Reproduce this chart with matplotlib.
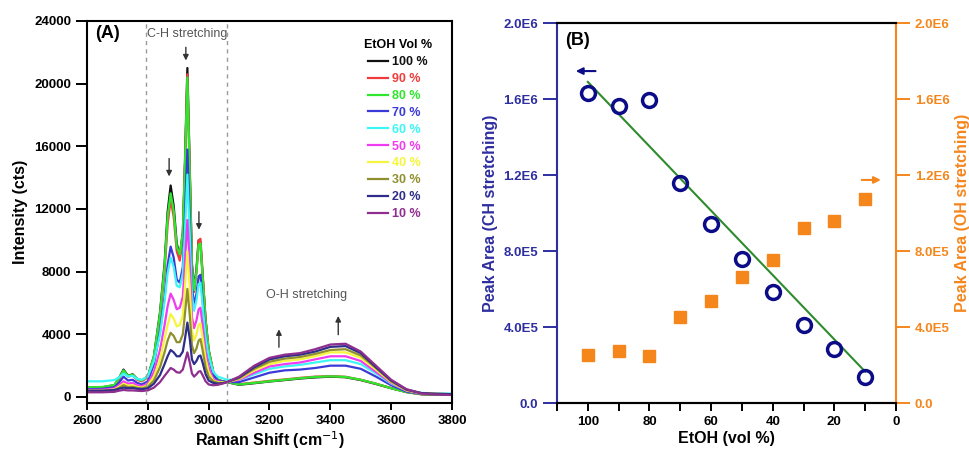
import matplotlib
matplotlib.use('Agg')
import matplotlib.pyplot as plt
import numpy as np
from matplotlib.ticker import MultipleLocator, FixedLocator, FixedFormatter

plt.rcParams['font.family'] = ['Liberation Sans', 'DejaVu Sans']

# ---------- panel A: Raman spectra ----------
shift = [2600, 2650, 2690, 2705, 2720, 2735, 2750, 2765, 2780, 2800, 2820, 2840, 2855, 2865, 2875,
         2885, 2895, 2905, 2915, 2922, 2930, 2938, 2945, 2952, 2960, 2967, 2973, 2980, 2990, 3000,
         3015, 3030, 3045, 3060, 3100, 3150, 3200, 3250, 3300, 3350, 3400, 3450, 3500, 3550, 3600,
         3650, 3700, 3750, 3800]

etoh_100 = [600, 620, 750, 1200, 1750, 1350, 1450, 1150, 1050, 1300, 2600, 5400, 8500, 11800, 13500,
            12200, 9800, 9000, 10500, 15000, 21000, 14500, 8500, 6900, 8200, 10000, 9900, 7800, 4900, 3000,
            1600, 1100, 1000, 950, 780, 880, 990, 1080, 1180, 1250, 1300, 1260, 1080, 830, 560,
            320, 170, 150, 140]
etoh_90 = [550, 570, 700, 1100, 1650, 1300, 1380, 1100, 1000, 1250, 2500, 5100, 8000, 11000, 12600,
           11500, 9300, 8700, 10200, 14600, 20600, 14200, 8300, 6700, 8000, 10000, 10100, 7900, 4900, 3000,
           1600, 1100, 1000, 950, 820, 920, 1030, 1120, 1220, 1300, 1330, 1290, 1100, 850, 570,
           320, 180, 160, 150]
etoh_80 = [620, 640, 770, 1200, 1700, 1350, 1420, 1150, 1050, 1300, 2600, 5300, 8300, 11500, 13000,
           11900, 9600, 9100, 10500, 14700, 20400, 14000, 8300, 6800, 8000, 9700, 9800, 7700, 4800, 3000,
           1600, 1100, 1000, 950, 800, 900, 1000, 1100, 1200, 1280, 1320, 1280, 1100, 850, 560,
           310, 180, 160, 150]
etoh_70 = [500, 520, 620, 900, 1300, 1050, 1100, 900, 800, 1000, 2100, 4200, 6400, 8400, 9600,
           8900, 7500, 7300, 8300, 11500, 15800, 11200, 7000, 5900, 6600, 7700, 7800, 6200, 3900, 2500,
           1400, 1050, 1000, 950, 950, 1250, 1550, 1700, 1750, 1850, 2000, 2000, 1800, 1300, 750,
           350, 200, 180, 160]
etoh_60 = [1000, 1000, 1080, 1250, 1500, 1300, 1350, 1150, 1100, 1300, 2300, 4000, 6100, 7900, 8900,
           8300, 7100, 7000, 7900, 10600, 14200, 10300, 6500, 5500, 6200, 7200, 7300, 5900, 3800, 2600,
           1600, 1300, 1200, 1100, 1100, 1450, 1800, 1950, 2050, 2200, 2350, 2350, 2100, 1500, 850,
           420, 260, 230, 220]
etoh_50 = [450, 460, 540, 750, 1000, 850, 900, 750, 700, 850, 1600, 3000, 4600, 5800, 6600,
           6200, 5600, 5700, 6400, 8600, 11300, 8400, 5100, 4400, 4900, 5600, 5700, 4600, 2900, 1900,
           1150, 1000, 950, 950, 1100, 1550, 1950, 2100, 2200, 2400, 2600, 2600, 2300, 1600, 900,
           400, 220, 200, 180]
etoh_40 = [400, 410, 480, 650, 850, 720, 750, 640, 600, 750, 1300, 2400, 3700, 4600, 5300,
           5000, 4500, 4600, 5200, 7000, 9300, 6900, 4200, 3600, 4000, 4600, 4700, 3800, 2400, 1600,
           1050, 950, 950, 950, 1150, 1700, 2100, 2300, 2400, 2600, 2850, 2850, 2500, 1750, 950,
           430, 230, 200, 180]
etoh_30 = [380, 390, 450, 580, 750, 630, 650, 580, 550, 650, 1050, 1900, 2850, 3600, 4100,
           3900, 3500, 3500, 4000, 5300, 6900, 5200, 3300, 2800, 3100, 3600, 3700, 3000, 1900, 1300,
           1000, 900, 900, 950, 1200, 1800, 2250, 2450, 2550, 2750, 3000, 3050, 2650, 1850, 1000,
           450, 240, 200, 180]
etoh_20 = [400, 400, 440, 520, 600, 560, 570, 520, 500, 550, 850, 1400, 2100, 2600, 3000,
           2850, 2600, 2600, 2900, 3700, 4750, 3700, 2400, 2100, 2300, 2600, 2650, 2200, 1450, 1050,
           900, 850, 880, 950, 1250, 1900, 2400, 2600, 2700, 2900, 3200, 3250, 2800, 1900, 1050,
           480, 250, 200, 180]
etoh_10 = [300, 300, 330, 400, 450, 420, 420, 400, 380, 420, 600, 950, 1350, 1600, 1850,
           1750, 1580, 1550, 1750, 2250, 2850, 2200, 1500, 1300, 1450, 1620, 1650, 1400, 1000, 800,
           750, 780, 850, 950, 1300, 2000, 2500, 2700, 2800, 3050, 3350, 3400, 2900, 2000, 1100,
           500, 220, 160, 130]

spectra = [etoh_100, etoh_90, etoh_80, etoh_70, etoh_60, etoh_50, etoh_40, etoh_30, etoh_20, etoh_10]
labels = ['100 %', '90 %', '80 %', '70 %', '60 %', '50 %', '40 %', '30 %', '20 %', '10 %']
colors = ['#111111', '#f03c3c', '#2ee62e', '#3a3ad8', '#3cf5f5', '#f03cf0', '#f5f53c', '#8f8f2e',
          '#2e2e8a', '#8e2e8e']

# ---------- panel B: peak areas ----------
etoh_vol = [100, 90, 80, 70, 60, 50, 40, 30, 20, 10]
area_ch = [1.633e6, 1.563e6, 1.595e6, 1.16e6, 0.942e6, 0.756e6, 0.583e6, 0.409e6, 0.286e6, 0.139e6]
area_oh = [0.253e6, 0.275e6, 0.246e6, 0.453e6, 0.535e6, 0.665e6, 0.751e6, 0.921e6, 0.956e6, 1.072e6]
fit_x = [100, 10]
fit_y = [1.69e6, 0.165e6]
area_ticks = [0, 4e5, 8e5, 1.2e6, 1.6e6, 2.0e6]
area_ticklabels = ['0.0', '4.0E5', '8.0E5', '1.2E6', '1.6E6', '2.0E6']

blue_ax = '#2e2ea0'
blue_pt = '#0c0c88'
orange = '#f5861c'

fig = plt.figure(figsize=(9.7, 4.57), dpi=100)
axA = fig.add_axes([87/970, 54/457, 365/970, 382/457])
axB = fig.add_axes([557/970, 54/457, 339/970, 380/457])

for y, lab, c in zip(spectra, labels, colors):
    axA.plot(shift, y, color=c, lw=1.6, label=lab)

axA.set_xlim(2600, 3800)
axA.set_ylim(-383, 24000)
axA.xaxis.set_major_locator(MultipleLocator(200))
axA.yaxis.set_major_locator(MultipleLocator(4000))
axA.tick_params(axis='y', direction='out', length=8, width=1.4, labelsize=9.5)
axA.tick_params(axis='x', direction='out', length=5, width=1.4, labelsize=9.5)
for lb in axA.get_xticklabels() + axA.get_yticklabels():
    lb.set_fontweight('bold')
for s in axA.spines.values():
    s.set_linewidth(1.5)
axA.set_xlabel('Raman Shift (cm$^{-1}$)', fontsize=11.5, fontweight='bold', labelpad=2)
axA.set_ylabel('Intensity (cts)', fontsize=11.5, fontweight='bold', labelpad=4)

for xv in [2795, 3060]:
    axA.axvline(xv, color='#9a9a9a', lw=1, ls=(0, (3, 3)))
axA.text(2666, 23200, '(A)', fontsize=13, fontweight='bold', ha='center', va='center')
axA.text(2931, 23150, 'C-H stretching', fontsize=9, color='#555555', ha='center', va='center')
axA.text(3322, 6500, 'O-H stretching', fontsize=9, color='#555555', ha='center', va='center')

arr = dict(arrowstyle='-|>', color='#333333', lw=1, mutation_scale=8)
axA.annotate('', xy=(2925, 21300), xytext=(2925, 22500), arrowprops=arr)
axA.annotate('', xy=(2870, 13900), xytext=(2870, 15400), arrowprops=arr)
axA.annotate('', xy=(2968, 10500), xytext=(2968, 12000), arrowprops=arr)
axA.annotate('', xy=(3231, 4500), xytext=(3231, 3000), arrowprops=arr)
axA.annotate('', xy=(3426, 5350), xytext=(3426, 3800), arrowprops=arr)

leg = axA.legend(loc='upper left', bbox_to_anchor=(0.735, 0.975), frameon=False, fontsize=9,
                 title='EtOH Vol %', handlelength=1.6, handletextpad=0.3, labelspacing=0.39,
                 borderpad=0.2)
leg.get_title().set_fontweight('bold')
leg.get_title().set_fontsize(9)
for t, c in zip(leg.get_texts(), colors):
    t.set_color(c)
    t.set_fontweight('bold')
for h in leg.get_lines():
    h.set_linewidth(1.6)

# panel B
axB.plot(fit_x, fit_y, color='#2e8b2e', lw=1.5, zorder=2)
axB.plot(etoh_vol, area_ch, ls='none', marker='o', ms=10, mfc='none', mec=blue_pt, mew=2.5, zorder=3)
axB.set_xlim(110, 0)
axB.set_ylim(0, 2.0e6)
axB.xaxis.set_major_locator(MultipleLocator(20))
axB.xaxis.set_minor_locator(FixedLocator([110, 90, 70, 50, 30, 10]))
axB.yaxis.set_major_locator(FixedLocator(area_ticks))
axB.yaxis.set_major_formatter(FixedFormatter(area_ticklabels))
axB.tick_params(axis='x', which='both', direction='out', length=6, width=1.4, labelsize=9.5)
axB.tick_params(axis='y', direction='out', length=10, width=1.4, labelsize=9.5,
                colors=blue_ax)
for lb in axB.get_xticklabels() + axB.get_yticklabels():
    lb.set_fontweight('bold')
axB.spines['left'].set_color(blue_ax)
axB.spines['right'].set_visible(False)
for s in axB.spines.values():
    s.set_linewidth(1.5)
axB.set_xlabel('EtOH (vol %)', fontsize=11.5, fontweight='bold', labelpad=2)
axB.set_ylabel('Peak Area (CH stretching)', fontsize=11.5, fontweight='bold', color=blue_ax,
               labelpad=4)
axB.text(103.3, 1.91e6, '(B)', fontsize=13, fontweight='bold', ha='center', va='center')
axB.annotate('', xy=(104.8, 1.747e6), xytext=(96.6, 1.747e6),
             arrowprops=dict(arrowstyle='-|>', color=blue_pt, lw=1.5, mutation_scale=10))

axB2 = axB.twinx()
axB2.plot(etoh_vol, area_oh, ls='none', marker='s', ms=9, color=orange, zorder=3)
axB2.set_ylim(0, 2.0e6)
axB2.yaxis.set_major_locator(FixedLocator(area_ticks))
axB2.yaxis.set_major_formatter(FixedFormatter(area_ticklabels))
axB2.tick_params(axis='y', direction='out', length=10, width=1.4, labelsize=9.5, colors=orange)
for lb in axB2.get_yticklabels():
    lb.set_fontweight('bold')
axB2.spines['right'].set_color(orange)
axB2.spines['left'].set_visible(False)
for s in axB2.spines.values():
    s.set_linewidth(1.5)
axB2.set_ylabel('Peak Area (OH stretching)', fontsize=11.5, fontweight='bold', color=orange,
                labelpad=4)
axB2.annotate('', xy=(4.0, 1.174e6), xytext=(12.0, 1.174e6),
              arrowprops=dict(arrowstyle='-|>', color=orange, lw=1.5, mutation_scale=10))

fig.savefig('out.png', dpi=100)
